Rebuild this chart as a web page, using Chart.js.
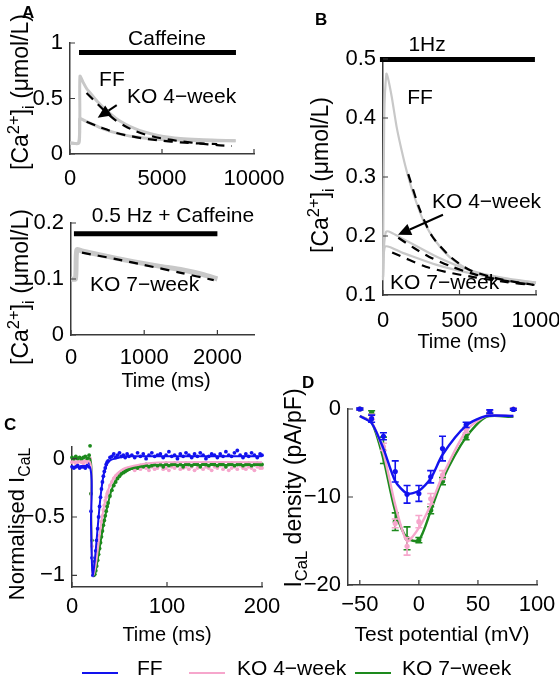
<!DOCTYPE html>
<html>
<head>
<meta charset="utf-8">
<script src="https://cdn.jsdelivr.net/npm/chart.js@4.4.1/dist/chart.umd.min.js"></script>
<style>
  body { margin: 0; background: #fff; }
  #fig { position: relative; width: 559px; height: 682px; overflow: hidden;
         font-family: "Liberation Sans", Arial, Helvetica, sans-serif; color: #000; }
  #fig canvas { position: absolute; left: 0; top: 0; }
  .tag { position: absolute; font-weight: bold; font-size: 17px; line-height: 17px; }
  .leg { position: absolute; top: 672px; width: 36px; height: 0; border-top: 2px solid; }
  .legt { position: absolute; top: 657px; font-size: 21px; line-height: 21px; white-space: nowrap; }
</style>
</head>
<body>
<div id="fig">
  <canvas id="a1" width="559" height="682"></canvas>
  <canvas id="a2" width="559" height="682"></canvas>
  <canvas id="b" width="559" height="682"></canvas>
  <canvas id="c" width="559" height="682"></canvas>
  <canvas id="d" width="559" height="682"></canvas>

  <div class="tag" style="left:22px;top:4px">A</div>
  <div class="tag" style="left:315px;top:11px">B</div>
  <div class="tag" style="left:4px;top:416px">C</div>
  <div class="tag" style="left:302px;top:374px">D</div>

  <div class="leg" style="left:82px;border-color:#1212ee"></div>
  <span class="legt" style="left:137px">FF</span>
  <div class="leg" style="left:189px;border-color:#f6a6cc"></div>
  <span class="legt" style="left:237px">KO 4&minus;week</span>
  <div class="leg" style="left:355px;border-color:#1d8a1d"></div>
  <span class="legt" style="left:402px">KO 7&minus;week</span>
</div>

<script>
// ---------- A, top: caffeine pulse ----------
const aCafTicksX = [0, 5000, 10000];
const aCafTicksY = [0, 0.5, 1];
const aCafFFt = [0, 480, 540, 700, 900, 1100, 1500, 2000, 2500, 3000, 3500, 4000, 5000, 6000, 7000, 8000, 9000];
const aCafFFv = [0.10, 0.10, 0.70, 0.65, 0.59, 0.55, 0.47, 0.39, 0.32, 0.27, 0.23, 0.20, 0.16, 0.14, 0.13, 0.125, 0.12];
const aCafKOt = [0, 480, 520, 560, 800, 1200, 1600, 2000, 2500, 3000, 3500, 4000, 5000, 6000, 7000, 8000, 9000];
const aCafKOv = [0.10, 0.10, 0.31, 0.32, 0.30, 0.27, 0.24, 0.215, 0.19, 0.17, 0.155, 0.145, 0.13, 0.125, 0.12, 0.12, 0.12];
const aCafFFfitT = [900, 1500, 2000, 2500, 3000, 3500, 4000, 5000, 6000, 7000, 8000, 8800];
const aCafFFfitV = [0.55, 0.45, 0.37, 0.30, 0.25, 0.21, 0.18, 0.14, 0.115, 0.095, 0.08, 0.072];
const aCafKOfitT = [900, 1500, 2000, 2500, 3000, 4000, 5000, 6000, 7000, 8000];
const aCafKOfitV = [0.29, 0.25, 0.22, 0.19, 0.17, 0.14, 0.12, 0.105, 0.095, 0.09];
const aCafBarT = [490, 9020];
const aCafBarV = [0.915, 0.915];

// ---------- A, bottom: 0.5 Hz + caffeine ----------
const aHzTicksX = [0, 1000, 2000];
const aHzTicksY = [0, 0.1, 0.2];
const aHzKOt = [0, 60, 80, 150, 400, 850, 1200, 1530, 1800, 2000];
const aHzKOv = [0.10, 0.10, 0.152, 0.150, 0.143, 0.131, 0.123, 0.116, 0.108, 0.100];
const aHzFitT = [150, 600, 1000, 1500, 1950];
const aHzFitV = [0.147, 0.136, 0.125, 0.111, 0.098];
const aHzBarT = [40, 2000];
const aHzBarV = [0.181, 0.181];

// ---------- B: 1 Hz transients ----------
const bTicksX = [0, 500, 1000];
const bTicksY = [0.1, 0.2, 0.3, 0.4, 0.5];
const bFFt = [0, 8, 22, 35, 57, 89, 122, 155, 198, 264, 351, 460, 612, 785, 1000];
const bFFv = [0.125, 0.40, 0.475, 0.465, 0.436, 0.385, 0.345, 0.31, 0.272, 0.226, 0.189, 0.159, 0.137, 0.125, 0.12];
const bKO4t = [0, 20, 131, 351, 569, 785, 1000];
const bKO4v = [0.13, 0.207, 0.195, 0.165, 0.142, 0.129, 0.121];
const bKO7t = [0, 13, 133, 351, 569, 786, 1000];
const bKO7v = [0.13, 0.182, 0.171, 0.151, 0.137, 0.127, 0.121];
const bFFfitT = [165, 240, 320, 440, 570, 780, 990];
const bFFfitV = [0.305, 0.245, 0.20, 0.165, 0.142, 0.126, 0.117];
const bKO4fitT = [100, 200, 300, 450, 600, 800, 980];
const bKO4fitV = [0.197, 0.18, 0.165, 0.148, 0.135, 0.124, 0.117];
const bKO7fitT = [60, 280, 450, 600, 800, 980];
const bKO7fitV = [0.172, 0.148, 0.137, 0.13, 0.122, 0.117];
const bBarT = [-20, 993];
const bBarV = [0.499, 0.499];

// ---------- C: normalised I_CaL traces ----------
const cTicksX = [0, 100, 200];
const cTicksY = [-1, -0.5, 0];
const cT = [0, 2, 4, 6, 8, 10, 12, 14, 16, 18,
  19, 20, 21, 22, 23, 24, 25, 26, 27, 28, 29, 30, 31, 32, 33, 34, 35, 36, 37, 38,
  40, 42, 44, 46, 48, 50, 52, 54, 56, 58, 60,
  63, 66, 69, 72, 75, 78, 81, 84, 87, 90,
  93, 96, 99, 102, 105, 108, 111, 114, 117, 120,
  123, 126, 129, 132, 135, 138, 141, 144, 147, 150,
  153, 156, 159, 162, 165, 168, 171, 174, 177, 180,
  183, 186, 189, 192, 195, 198, 200];
const cFF = [-0.07, -0.08, -0.07, -0.06, -0.08, -0.07, -0.07, -0.08, -0.06, -0.07,
  -0.04, -0.45, -0.85, -1.0, -0.96, -0.88, -0.79, -0.70, -0.60, -0.50, -0.41, -0.33, -0.26, -0.20, -0.15, -0.11, -0.08, -0.05, -0.03, -0.02,
  0.01, 0.02, 0.04, 0.01, 0.03, 0.05, 0.02, 0.03, 0.01, 0.04, 0.02,
  0.03, 0.01, 0.05, 0.02, 0.04, 0.0, 0.03, 0.05, 0.02, 0.03,
  0.04, 0.01, 0.03, 0.06, 0.02, 0.03, 0.0, 0.04, 0.02, 0.05,
  0.03, 0.01, 0.04, 0.02, 0.05, 0.03, 0.0, 0.02, 0.04, 0.03,
  0.01, 0.04, 0.02, 0.06, 0.03, 0.02, 0.05, 0.07, 0.03, 0.01,
  0.04, 0.02, 0.05, 0.03, 0.01, 0.04, 0.03];
const cKO4 = [-0.03, -0.02, -0.04, -0.03, -0.02, -0.03, -0.04, -0.02, -0.03, -0.03,
  0.0, -0.3, -0.75, -0.97, -1.0, -0.97, -0.92, -0.86, -0.80, -0.73, -0.66, -0.60, -0.54, -0.49, -0.44, -0.40, -0.36, -0.33, -0.30, -0.28,
  -0.23, -0.20, -0.17, -0.15, -0.14, -0.12, -0.11, -0.10, -0.10, -0.09, -0.08,
  -0.08, -0.10, -0.07, -0.09, -0.06, -0.08, -0.10, -0.07, -0.09, -0.08,
  -0.06, -0.09, -0.08, -0.10, -0.07, -0.08, -0.06, -0.09, -0.08, -0.07,
  -0.09, -0.07, -0.10, -0.08, -0.06, -0.09, -0.07, -0.08, -0.10, -0.07,
  -0.08, -0.06, -0.09, -0.07, -0.10, -0.08, -0.07, -0.09, -0.06, -0.08,
  -0.09, -0.07, -0.08, -0.10, -0.07, -0.08, -0.08];
const cKO7 = [0.01, 0.0, 0.02, 0.0, 0.01, -0.01, 0.01, 0.02, 0.0, 0.03,
  0.11, -0.3, -0.7, -0.95, -1.0, -0.99, -0.96, -0.92, -0.87, -0.82, -0.77, -0.72, -0.67, -0.62, -0.57, -0.53, -0.49, -0.45, -0.41, -0.38,
  -0.32, -0.27, -0.23, -0.20, -0.17, -0.15, -0.13, -0.12, -0.11, -0.10, -0.09,
  -0.08, -0.07, -0.08, -0.06, -0.07, -0.05, -0.07, -0.06, -0.05, -0.06,
  -0.05, -0.07, -0.04, -0.06, -0.05, -0.04, -0.06, -0.05, -0.07, -0.04,
  -0.05, -0.06, -0.04, -0.05, -0.07, -0.04, -0.05, -0.06, -0.04, -0.05,
  -0.06, -0.04, -0.05, -0.07, -0.05, -0.04, -0.06, -0.05, -0.04, -0.06,
  -0.05, -0.04, -0.06, -0.05, -0.04, -0.05, -0.05];
const cFFfitT = [0, 19, 20, 21, 22, 24, 26, 28, 30, 32, 34, 36, 38, 41, 45, 50, 60, 200];
const cFFfitV = [-0.075, -0.075, -0.55, -0.9, -1.0, -0.87, -0.69, -0.5, -0.33, -0.2, -0.11, -0.06, -0.03, -0.01, 0.0, 0.01, 0.02, 0.02];
const cKOfitT = [0, 19, 20, 21, 22, 23, 25, 27, 29, 31, 33, 35, 38, 42, 46, 50, 56, 65, 80, 100, 200];
const cKO4fitV = [-0.03, -0.03, -0.4, -0.85, -1.0, -0.99, -0.91, -0.79, -0.66, -0.54, -0.44, -0.36, -0.27, -0.19, -0.14, -0.11, -0.08, -0.06, -0.04, -0.03, -0.03];
const cKO7fitV = [0.0, 0.0, -0.4, -0.8, -0.97, -1.0, -0.96, -0.87, -0.77, -0.67, -0.57, -0.49, -0.38, -0.26, -0.19, -0.15, -0.11, -0.08, -0.06, -0.055, -0.055];

// ---------- D: I-V relationship ----------
const dTicksX = [-50, 0, 50, 100];
const dTicksY = [-20, -10, 0];
const dV = [-50, -40, -30, -20, -10, 0, 10, 20, 40, 60, 80];
const dFF = [0, -1.1, -3.1, -7.1, -9.7, -9.6, -7.7, -4.5, -1.8, -0.3, -0.05];
const dFFerr = [0.1, 0.4, 0.4, 1.2, 1.0, 0.9, 0.7, 1.4, 0.3, 0.2, 0.1];
const dKO4 = [0, -0.9, -4.3, -13.0, -15.6, -12.8, -10.2, -7.5, -2.4, -0.4, 0];
const dKO4err = [0.1, 0.3, 0.4, 0.5, 1.0, 0.7, 0.6, 0.5, 0.3, 0.2, 0.1];
const dKO7 = [0, -0.4, -4.7, -12.8, -14.7, -14.9, -11.5, -8.2, -3.2, -0.6, -0.05];
const dKO7err = [0.1, 0.2, 1.5, 1.0, 1.3, 0.3, 0.4, 0.4, 0.3, 0.15, 0.1];
const dFitV = [-50, -40, -30, -20, -10, 0, 10, 20, 40, 57, 80];
const dFFfit = [-0.8, -1.6, -4.5, -8.2, -9.6, -9.3, -7.9, -5.2, -1.9, -0.8, -0.8];
const dKO4fit = [-0.8, -1.5, -5.0, -10.9, -15.0, -13.5, -10.9, -7.6, -2.5, -0.8, -0.8];
const dKO7fit = [-0.8, -1.5, -5.7, -11.6, -14.7, -14.9, -11.6, -8.0, -3.2, -0.9, -0.9];

// ---------- styling / layout ----------
const FONT = '"Liberation Sans", Arial, Helvetica, sans-serif';
const AXIS = '#3a3a3a';
const GREY = '#c8c8c8';
const BLUE = '#1212ee';
const PINK = '#f6a6cc';
const GREEN = '#1d8a1d';
const W = 559, H = 682, YW = 60, XH = 40;

Chart.defaults.font.family = FONT;
Chart.defaults.color = '#000';

function pts(xs, ys) { return xs.map((x, i) => ({ x: x, y: ys[i] })); }
function fmt(v) { return String(v).replace('-', '\u2212'); }

const CA_TITLE = [{ t: '[Ca' }, { t: '2+', sup: true }, { t: ']' }, { t: 'i', sub: true }, { t: ' (\u03bcmol/L)' }];

// extra drawing per canvas: texts on the plot, arrows, rotated axis titles
const decor = {
  a1: {
    notes: [{ x: 5270, y: 1.03, t: 'Caffeine', align: 'center' },
            { x: 2280, y: 0.667, t: 'FF', align: 'center' },
            { x: 3100, y: 0.51, t: 'KO 4\u2212week', align: 'left' }],
    arrows: [[2540, 0.44, 1505, 0.326]],
    titles: [{ parts: CA_TITLE, x: 28, y: 92, size: 23, rot: true }]
  },
  a2: {
    notes: [{ x: 1393, y: 0.2125, t: '0.5 Hz + Caffeine', align: 'center' },
            { x: 260, y: 0.089, t: 'KO 7\u2212week', align: 'left' }],
    arrows: [],
    titles: [{ parts: CA_TITLE, x: 28, y: 287, size: 23, rot: true },
             { parts: [{ t: 'Time (ms)' }], x: 166, y: 387, size: 20 }]
  },
  b: {
    notes: [{ x: 288, y: 0.524, t: '1Hz', align: 'center' },
            { x: 242, y: 0.434, t: 'FF', align: 'center' },
            { x: 320, y: 0.258, t: 'KO 4\u2212week', align: 'left' },
            { x: 46, y: 0.12, t: 'KO 7\u2212week', align: 'left' }],
    arrows: [[392, 0.236, 98, 0.202]],
    titles: [{ parts: CA_TITLE, x: 328, y: 175, size: 23, rot: true },
             { parts: [{ t: 'Time (ms)' }], x: 462, y: 348, size: 20 }]
  },
  c: {
    notes: [], arrows: [],
    titles: [{ parts: [{ t: 'Normalised I' }, { t: 'CaL', sub: true }], x: 24, y: 524, size: 22, rot: true },
             { parts: [{ t: 'Time (ms)' }], x: 167, y: 641, size: 20 }]
  },
  d: {
    notes: [], arrows: [],
    titles: [{ parts: [{ t: 'I' }, { t: 'CaL', sub: true }, { t: ' density (pA/pF)' }], x: 301, y: 488, size: 23, rot: true },
             { parts: [{ t: 'Test potential (mV)' }], x: 442, y: 641, size: 21 }]
  }
};

function drawRich(ctx, item) {
  const parts = item.parts.map(p => {
    const s = (p.sup || p.sub) ? item.size * 0.72 : item.size;
    ctx.font = s + 'px ' + FONT;
    return { t: p.t, sup: p.sup, sub: p.sub, s: s, w: ctx.measureText(p.t).width };
  });
  const total = parts.reduce((a, p) => a + p.w, 0);
  ctx.save();
  ctx.translate(item.x, item.y);
  if (item.rot) ctx.rotate(-Math.PI / 2);
  ctx.fillStyle = '#000';
  ctx.textAlign = 'left';
  ctx.textBaseline = 'alphabetic';
  let cx = -total / 2;
  parts.forEach(p => {
    ctx.font = p.s + 'px ' + FONT;
    const dy = p.sup ? -item.size * 0.4 : (p.sub ? item.size * 0.25 : 0);
    ctx.fillText(p.t, cx, dy);
    cx += p.w;
  });
  ctx.restore();
}

const figPlugin = {
  id: 'figPlugin',
  afterDatasetDraw(chart, args) {
    const ds = chart.data.datasets[args.index];
    if (!ds.errs) return;
    const ctx = chart.ctx, xs = chart.scales.x, ys = chart.scales.y;
    ctx.save();
    ctx.strokeStyle = ds.borderColor;
    ctx.lineWidth = 1.6;
    ds.data.forEach((p, i) => {
      const px = xs.getPixelForValue(p.x);
      const y1 = ys.getPixelForValue(p.y - ds.errs[i]);
      const y2 = ys.getPixelForValue(p.y + ds.errs[i]);
      ctx.beginPath();
      ctx.moveTo(px, y1); ctx.lineTo(px, y2);
      ctx.moveTo(px - 3.5, y1); ctx.lineTo(px + 3.5, y1);
      ctx.moveTo(px - 3.5, y2); ctx.lineTo(px + 3.5, y2);
      ctx.stroke();
    });
    ctx.restore();
  },
  afterDraw(chart) {
    const d = decor[chart.canvas.id];
    const ctx = chart.ctx, xs = chart.scales.x, ys = chart.scales.y, area = chart.chartArea;
    ctx.save();
    // inward tick marks, matlab style
    ctx.strokeStyle = AXIS;
    ctx.lineWidth = 1.2;
    ctx.beginPath();
    xs.ticks.forEach(t => {
      const px = xs.getPixelForValue(t.value);
      ctx.moveTo(px, area.bottom); ctx.lineTo(px, area.bottom - 5);
    });
    ys.ticks.forEach(t => {
      const py = ys.getPixelForValue(t.value);
      ctx.moveTo(area.left, py); ctx.lineTo(area.left + 5, py);
    });
    ctx.stroke();
    // arrows
    ctx.strokeStyle = '#000';
    ctx.fillStyle = '#000';
    ctx.lineWidth = 2;
    d.arrows.forEach(a => {
      const x1 = xs.getPixelForValue(a[0]), y1 = ys.getPixelForValue(a[1]);
      const x2 = xs.getPixelForValue(a[2]), y2 = ys.getPixelForValue(a[3]);
      const ang = Math.atan2(y2 - y1, x2 - x1);
      const hl = 13, hw = 6;
      const bx = x2 - hl * Math.cos(ang), by = y2 - hl * Math.sin(ang);
      ctx.beginPath(); ctx.moveTo(x1, y1); ctx.lineTo(bx, by); ctx.stroke();
      ctx.beginPath();
      ctx.moveTo(x2, y2);
      ctx.lineTo(bx + hw * Math.sin(ang), by - hw * Math.cos(ang));
      ctx.lineTo(bx - hw * Math.sin(ang), by + hw * Math.cos(ang));
      ctx.closePath(); ctx.fill();
    });
    // texts inside the panels
    ctx.font = '21px ' + FONT;
    ctx.textBaseline = 'middle';
    d.notes.forEach(n => {
      ctx.textAlign = n.align;
      ctx.fillText(n.t, xs.getPixelForValue(n.x), ys.getPixelForValue(n.y));
    });
    d.titles.forEach(t => drawRich(ctx, t));
    ctx.restore();
  }
};
Chart.register(figPlugin);

function scaleOpts(range, tickVals, pad, fit) {
  return {
    type: 'linear', min: range[0], max: range[1],
    afterBuildTicks: s => { s.ticks = tickVals.map(v => ({ value: v })); },
    afterFit: fit,
    grid: { display: false, drawTicks: false },
    border: { display: true, color: AXIS, width: 1.5 },
    ticks: { autoSkip: false, maxRotation: 0, padding: pad, color: '#000',
             font: { size: 22 }, callback: v => fmt(v) }
  };
}

function build(id, area, xr, yr, xt, yt, xPad, datasets) {
  return new Chart(document.getElementById(id), {
    type: 'scatter',
    data: { datasets: datasets },
    options: {
      responsive: false, animation: false, events: [],
      layout: { padding: { left: area.l - YW, right: W - area.r, top: area.t, bottom: H - area.b - XH } },
      plugins: { legend: { display: false }, tooltip: { enabled: false } },
      scales: {
        // fixed axis boxes; label overhang must not shrink the plot area
        x: scaleOpts(xr, xt, xPad, s => { s.height = XH; s.paddingLeft = 0; s.paddingRight = 0; }),
        y: scaleOpts(yr, yt, 7, s => { s.width = YW; s.paddingTop = 0; s.paddingBottom = 0; })
      }
    }
  });
}

function line(xs, ys, color, width, dash) {
  return { data: pts(xs, ys), showLine: true, borderColor: color, borderWidth: width,
           borderDash: dash || [], pointRadius: 0, clip: false, tension: 0.25 };
}
function dots(xs, ys, color, r) {
  return { data: pts(xs, ys), showLine: false, backgroundColor: color, borderColor: color,
           borderWidth: 0, pointRadius: r, clip: false };
}
const DASH = [9, 7];

build('a1', { l: 70, r: 254, t: 43, b: 154 }, [0, 10000], [0, 1], aCafTicksX, aCafTicksY, 12, [
  line(aCafBarT, aCafBarV, '#000', 5),
  line(aCafFFfitT, aCafFFfitV, '#000', 2.2, DASH),
  line(aCafKOfitT, aCafKOfitV, '#000', 2.2, DASH),
  line(aCafFFt, aCafFFv, GREY, 3),
  line(aCafKOt, aCafKOv, GREY, 3)
]);

build('a2', { l: 71, r: 254, t: 223, b: 335 }, [0, 2500], [0, 0.2], aHzTicksX, aHzTicksY, 10, [
  line(aHzBarT, aHzBarV, '#000', 5),
  line(aHzFitT, aHzFitV, '#000', 2.2, DASH),
  line(aHzKOt, aHzKOv, GREY, 5)
]);

build('b', { l: 383, r: 536, t: 59, b: 295 }, [0, 1000], [0.1, 0.5], bTicksX, bTicksY, 13, [
  line(bBarT, bBarV, '#000', 5),
  line(bFFfitT, bFFfitV, '#000', 2.2, DASH),
  line(bKO4fitT, bKO4fitV, '#000', 2.2, DASH),
  line(bKO7fitT, bKO7fitV, '#000', 2.2, DASH),
  line(bFFt, bFFv, GREY, 2.2),
  line(bKO4t, bKO4v, GREY, 2.2),
  line(bKO7t, bKO7v, GREY, 2.2)
]);

build('c', { l: 72, r: 262, t: 447, b: 587 }, [0, 200], [-1.1, 0.1], cTicksX, cTicksY, 7, [
  line(cFFfitT, cFFfitV, BLUE, 2),
  line(cKOfitT, cKO4fitV, PINK, 2),
  line(cKOfitT, cKO7fitV, GREEN, 2),
  dots(cT, cFF, BLUE, 1.9),
  dots(cT, cKO7, GREEN, 1.9),
  dots(cT, cKO4, PINK, 1.9)
]);

function marks(ys, errs, color) {
  const ds = dots(dV, ys, color, 2.6);
  ds.errs = errs;
  return ds;
}
build('d', { l: 348, r: 537, t: 409, b: 585 }, [-60, 100], [-20, 0], dTicksX, dTicksY, 7, [
  line(dFitV, dFFfit, BLUE, 2.4),
  marks(dFF, dFFerr, BLUE),
  line(dFitV, dKO4fit, PINK, 2.4),
  marks(dKO4, dKO4err, PINK),
  line(dFitV, dKO7fit, GREEN, 2.4),
  marks(dKO7, dKO7err, GREEN)
]);
</script>
</body>
</html>
